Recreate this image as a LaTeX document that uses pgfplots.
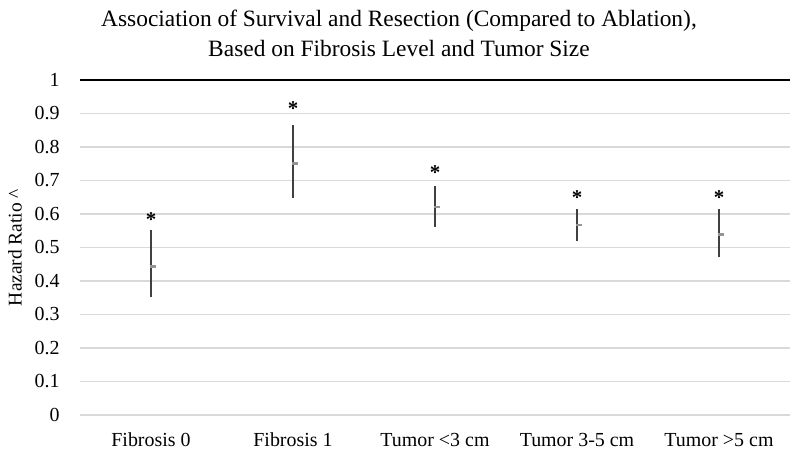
\documentclass[border=0pt]{standalone}
\usepackage{pgfplots}
\pgfplotsset{compat=1.18}
\usepackage{fontspec}
\setmainfont{Liberation Serif}
\definecolor{gridc}{HTML}{D9D9D9}
\definecolor{barc}{HTML}{404040}
\definecolor{ptc}{HTML}{959595}
\begin{document}
\begin{tikzpicture}
\useasboundingbox (-80bp,-37bp) rectangle (715bp,415bp);
\begin{axis}[
  scale only axis,
  width=710bp, height=335bp,
  xmin=-0.5, xmax=4.5,
  ymin=0, ymax=1,
  ytick={0,0.1,...,1.0},
  yticklabels={0,0.1,0.2,0.3,0.4,0.5,0.6,0.7,0.8,0.9,1},
  xtick={0,1,2,3,4},
  xticklabels={Fibrosis 0,Fibrosis 1,Tumor <3 cm,Tumor 3-5 cm,Tumor >5 cm},
  axis line style={draw=none},
  major tick length=0pt,
  ymajorgrids,
  grid style={gridc, line width=1.3bp},
  /pgf/number format/assume math mode=true,
  tick label style={font=\fontsize{20}{22}\selectfont},
  yticklabel style={xshift=-17bp},
  xticklabel style={anchor=base, yshift=-31bp},
  ylabel={Hazard Ratio \^{}},
  every axis y label/.style={at={(rel axis cs:0,0.5)}, rotate=90, anchor=center, yshift=65bp, font=\fontsize{19.5}{21}\selectfont},
  title={Association of Survival and Resection (Compared to Ablation),\\Based on Fibrosis Level and Tumor Size},
  title style={font=\fontsize{23.5}{30}\selectfont, align=center, yshift=14bp, xshift=-36bp},
  clip=false,
]
\addplot[black, line width=2bp, forget plot] coordinates {(-0.5,1) (4.5,1)};
\addplot[
  draw=none,
  mark=-, mark size=3bp, mark options={ptc, line width=2.2bp, xshift=2bp},
  error bars/.cd, y dir=both, y explicit, error mark=none,
  error bar style={barc, line width=1.8bp},
] table[x=x, y=y, y error plus=ep, y error minus=em] {
x y ep em
0 0.443 0.109 0.090
1 0.751 0.115 0.102
2 0.620 0.064 0.060
3 0.567 0.047 0.047
4 0.539 0.075 0.066
};
\addplot[
  draw=none, mark=none,
  nodes near coords={*},
  every node near coord/.append style={font=\fontsize{21}{21}\selectfont\bfseries, anchor=center, yshift=-2bp},
] coordinates {(0,0.59) (1,0.92) (2,0.73) (3,0.655) (4,0.655)};
\end{axis}
\end{tikzpicture}
\end{document}
